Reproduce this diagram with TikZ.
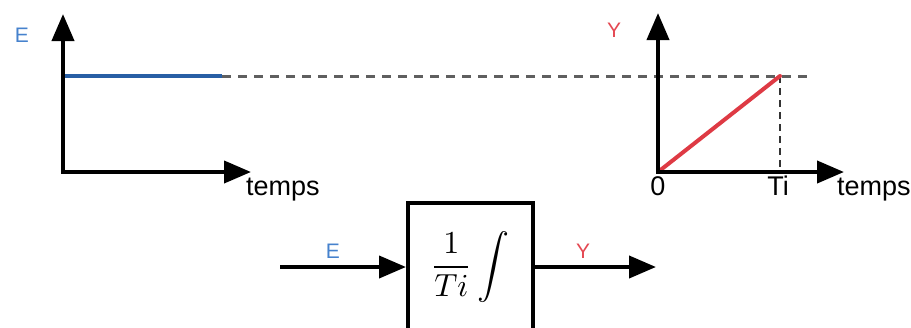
\documentclass[tikz,border=0pt]{standalone}
\usepackage{fontspec}
\usepackage{amsmath}
\usepackage{graphicx}
\newfontfamily\labfont{Liberation Sans}
\usetikzlibrary{arrows.meta}

\definecolor{sigblue}{RGB}{40,95,165}
\definecolor{lblblue}{RGB}{70,130,205}
\definecolor{sigred}{RGB}{222,58,68}
\definecolor{lblred}{RGB}{228,72,82}
\definecolor{dashgray}{RGB}{95,95,95}

\tikzset{
  bigarrow/.style={line width=4pt, -{Triangle[length=27pt,width=22pt]}},
  axisline/.style={bigarrow},
  lbl/.style={inner sep=0pt, font=\labfont\fontsize{27}{30}\selectfont},
  siglbl/.style={inner sep=0pt, font=\labfont\fontsize{21}{24}\selectfont},
  guide/.style={dashgray, line width=3pt, dash pattern=on 9pt off 7pt},
  guidev/.style={black!80, line width=2.2pt, dash pattern=on 7pt off 5pt},
  blockbox/.style={draw, line width=4pt, minimum width=125pt, minimum height=128pt, inner sep=0pt}
}

\begin{document}
\begin{tikzpicture}[x=1pt,y=-1pt]
\useasboundingbox (0,0) rectangle (911,327);
\clip (0,0) rectangle (911,327);

% input signal: step E(t)
\coordinate (o1) at (63,172);
\coordinate (y1) at (63,14);
\coordinate (x1) at (251,172);
\coordinate (s1) at (63,76);
\coordinate (s1end) at (222,76);
\coordinate (g1) at (813,76);
\draw[guide] (s1end) -- (g1);
\draw[sigblue, line width=4pt] (s1) -- (s1end);
\draw[axisline] (o1) -- (y1);
\draw[axisline] ([xshift=-2pt]o1) -- (x1);
\node[siglbl, text=lblblue, anchor=base] (eaxis) at (22,42) {E};
\node[lbl, anchor=base west] (t1) at (246,195) {temps};

% output signal: ramp Y(t)
\coordinate (o2) at (658,172);
\coordinate (y2) at (658,13);
\coordinate (x2) at (844,172);
\coordinate (r2) at (780,76);
\coordinate (r2b) at (780,172);
\draw[guidev] (r2) -- (r2b);
\draw[sigred, line width=4pt, line cap=round] (o2) -- (r2);
\draw[axisline] (o2) -- (y2);
\draw[axisline] ([xshift=-2pt]o2) -- (x2);
\node[siglbl, text=lblred, anchor=base] (yaxis) at (614,37) {Y};
\node[lbl, anchor=base] (zero) at (658,195) {0};
\node[lbl, anchor=base] (ti) at (778,195) {Ti};
\node[lbl, anchor=base west] (t2) at (837,195) {temps};

% integrator block
\node[blockbox] (blk) at (470.5,267) {};
\node[inner sep=0pt] (gain) at (470,267) {\scalebox{3.2}{$\displaystyle\frac{1}{Ti}\int$}};
\coordinate (in) at (280,267);
\coordinate (out) at (656,267);
\draw[bigarrow] (in) -- (blk.west);
\draw[bigarrow] (blk.east) -- (out);
\node[siglbl, text=lblblue, anchor=base] (ein) at (333,258) {E};
\node[siglbl, text=lblred, anchor=base] (yout) at (583,258) {Y};
\end{tikzpicture}
\end{document}
